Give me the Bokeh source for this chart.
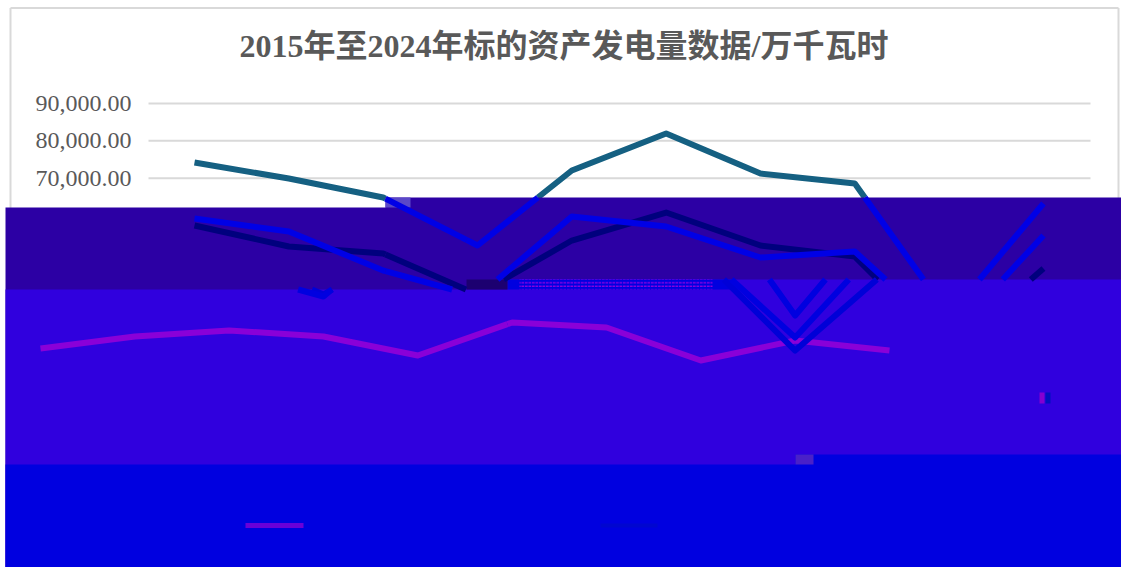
from bokeh.plotting import figure
from bokeh.models import Label, Range1d, FixedTicker, NumeralTickFormatter
from bokeh.embed import file_html
from bokeh.resources import INLINE

TITLE = "2015年至2024年标的资产发电量数据/万千瓦时"
years = [2015, 2016, 2017, 2018, 2019, 2020, 2021, 2022, 2023, 2024]
series_teal = [74200, 69910, 64820, 51960, 72050, 81960, 71250, 68570, 33210, 63210]
series_blue = [59190, 55710, 45260, 38300, 59730, 57050, 48750, 50350, 27320, 54640]
series_dark = [57320, 51690, 49820, 38830, 53300, 60800, 51960, 49010, 23830, 45800]
series_purple = [24370, 27585, 29190, 27585, 22490, 31340, 30000, 21160, 26510, 23830]
y_ticks = [60000, 70000, 80000, 90000]

W, H = 1121, 567
PX_PER_YEAR = 94.33
PX_PER_10K = 37.33
SHIFT_PX = 154          # the lower band is displaced sideways in the reference


def xv(X):   # page px -> year
    return 2015 + (X - 194) / PX_PER_YEAR


def yv(Y):   # page px -> value
    return 90000 - (Y - 103) / PX_PER_10K * 10000


p = figure(width=W, height=H, output_backend="svg", toolbar_location=None,
           x_range=Range1d(xv(0), xv(W)), y_range=Range1d(yv(H), yv(0)),
           min_border=0, background_fill_color="white", border_fill_color="white",
           outline_line_color=None, x_axis_location=None)
p.grid.visible = False

p.add_layout(Label(x=xv(563.5), y=yv(45), text=TITLE, text_align="center", text_baseline="middle",
                   text_font="Liberation Serif, Noto Sans CJK SC", text_font_size="32px",
                   text_font_style="bold", text_color="#595959", level="overlay"))

ax = p.yaxis[0]
ax.fixed_location = xv(140)
ax.ticker = FixedTicker(ticks=y_ticks)
ax.formatter = NumeralTickFormatter(format="0,0.00")
ax.major_label_text_font = "Liberation Serif"
ax.major_label_text_font_size = "24px"
ax.major_label_text_color = "#595959"
ax.major_label_standoff = 3
ax.axis_line_color = None
ax.major_tick_line_color = None
ax.minor_tick_line_color = None

# gridlines stop short of the frame edges like the reference
p.segment(x0=[xv(148)] * len(y_ticks), x1=[xv(1090)] * len(y_ticks), y0=y_ticks, y1=y_ticks,
          line_color="#d9d9d9", line_width=2, level="underlay")

# outer chart border
p.segment(x0=[xv(10), xv(10), xv(1118)], x1=[xv(1118), xv(10), xv(1118)],
          y0=[yv(7.5), yv(7.5), yv(7.5)], y1=[yv(7.5), yv(300), yv(300)],
          line_color="#d9d9d9", line_width=2, level="underlay")


def band(points, color):
    p.patch([xv(a) for a, _ in points], [yv(b) for _, b in points], fill_color=color,
            line_alpha=0, level="annotation")


def block(X0, X1, Y0, Y1, color, **kw):
    p.quad(left=[xv(X0)], right=[xv(X1)], top=[yv(Y0)], bottom=[yv(Y1)],
           fill_color=color, line_alpha=0, level="annotation", **kw)


DARKB, MIDB, BLUE = "#2c00a4", "#3000de", "#0000e0"
# painted as overlapping layers so no white seam shows between them
band([(5, 207), (385, 207), (385, 197), (1121, 197), (1121, 567), (5, 567)], DARKB)
band([(5, 289), (466, 289), (466, 289), (507, 289), (507, 279), (1121, 279), (1121, 567), (5, 567)], MIDB)
band([(5, 464), (795, 464), (795, 454), (1121, 454), (1121, 567), (5, 567)], BLUE)
block(507, 735, 279, 289, BLUE)
block(519, 712, 279, 289, BLUE, hatch_pattern="horizontal_dash", hatch_color="#c000e0",
      hatch_scale=3.5, hatch_weight=1)
block(466, 507, 279, 289, "#1c0070")
block(385, 410, 197, 207, "#5a48c8")
block(795, 813, 454, 464, "#4a20c8")
block(1039, 1044, 392, 403, "#8400d0")
block(1045, 1050, 392, 403, "#0010c0")


def clip(xs, ys, rect, dx=0.0):
    """Cut a polyline to a rectangle given in page px, keeping joined runs."""
    X0, X1, Y0, Y1 = rect
    xa, xb, ya, yb = xv(X0), xv(X1), yv(Y1), yv(Y0)
    runs, run = [], []
    for i in range(len(xs) - 1):
        x1, y1, x2, y2 = xs[i] - dx, ys[i], xs[i + 1] - dx, ys[i + 1]
        t0, t1, ok = 0.0, 1.0, True
        for d, q in ((x1 - x2, x1 - xa), (x2 - x1, xb - x1), (y1 - y2, y1 - ya), (y2 - y1, yb - y1)):
            if d == 0:
                ok = ok and q >= 0
            else:
                t = q / d
                if d < 0:
                    t0 = max(t0, t)
                else:
                    t1 = min(t1, t)
        if not ok or t0 >= t1:
            if run:
                runs.append(run)
                run = []
            continue
        a = (x1 + t0 * (x2 - x1), y1 + t0 * (y2 - y1))
        b = (x1 + t1 * (x2 - x1), y1 + t1 * (y2 - y1))
        if not run:
            run = [a]
        run.append(b)
        if t1 < 1.0:
            runs.append(run)
            run = []
    if run:
        runs.append(run)
    return runs


def draw(values, rects, color, dx=0.0, level="overlay", width=6):
    runs = []
    for r in rects:
        runs += clip(years, values, r, dx)
    if runs:
        p.multi_line([[q[0] for q in r] for r in runs], [[q[1] for q in r] for r in runs],
                     line_color=color, line_width=width, line_join="round", level=level)


TOP = [(5, 385, 8, 207), (385, 1121, 8, 197)]
A = [(5, 385, 207, 289), (385, 466, 197, 289), (466, 1121, 197, 279)]
B = [(5, 507, 289, 464), (507, 1121, 279, 464)]
dx = SHIFT_PX / PX_PER_YEAR

draw(series_teal, TOP, "#156082", level="glyph")
draw(series_dark, A, "#00007e")
draw(series_blue, A, "#0000e6")
draw(series_teal, A, "#0000e6")
draw(series_purple, B, "#8a00d8", dx=dx)
draw(series_dark, B, "#0000d8", dx=dx)
draw(series_blue, B, "#0000e0", dx=dx)
draw(series_teal, B, "#0000e0", dx=dx)

# legend swatches that survive in the lowest band
p.segment(x0=[xv(245)], x1=[xv(303)], y0=[yv(525)], y1=[yv(525)], line_color="#6a00d8",
          line_width=5, level="overlay")
p.segment(x0=[xv(600)], x1=[xv(657)], y0=[yv(525)], y1=[yv(525)], line_color="#0006d0",
          line_width=4, level="overlay")

open("out.html", "w").write(file_html(p, INLINE))
